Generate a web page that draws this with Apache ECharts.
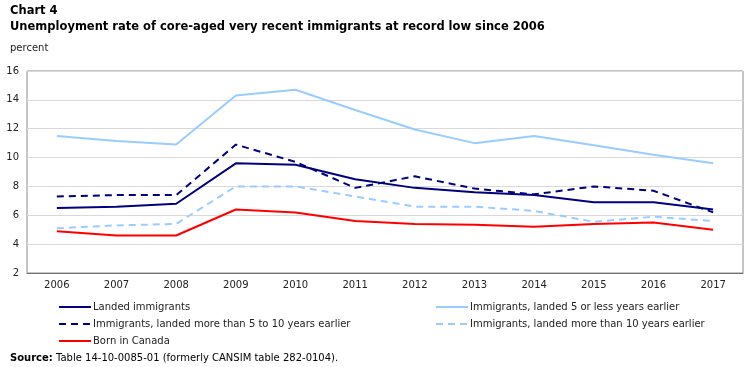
<!DOCTYPE html>
<html><head><meta charset="utf-8">
<script src="https://cdn.jsdelivr.net/npm/echarts@6/dist/echarts.min.js"></script>
<style>html,body{margin:0;padding:0;background:#fff}#c{width:750px;height:367px}</style>
</head><body><div id="c"></div>
<script>
const years = ['2006','2007','2008','2009','2010','2011','2012','2013','2014','2015','2016','2017'];
const yTicks = [2,4,6,8,10,12,14,16];
const landed = [6.5,6.6,6.8,9.6,9.5,8.5,7.9,7.6,7.4,6.9,6.9,6.4];
const landed5less = [11.5,11.15,10.9,14.3,14.7,13.3,11.95,11.0,11.5,10.85,10.2,9.6];
const landed5to10 = [7.3,7.4,7.4,10.9,9.7,7.9,8.7,7.85,7.45,8.0,7.7,6.2];
const landed10plus = [5.1,5.3,5.4,8.0,8.0,7.3,6.6,6.6,6.3,5.55,5.9,5.6];
const bornCanada = [4.9,4.6,4.6,6.4,6.2,5.6,5.4,5.35,5.2,5.4,5.5,5.0];
const names = ['Landed immigrants','Immigrants, landed 5 or less years earlier','Immigrants, landed more than 5 to 10 years earlier','Immigrants, landed more than 10 years earlier','Born in Canada'];

const FONT = 'DejaVu Sans';
const chart = echarts.init(document.getElementById('c'), null, {renderer:'canvas'});
function ser(name, data, color, dashed){
  return {name, type:'line', data, symbol:'none', smooth:false,
    lineStyle:{color, width:2, type: dashed ? [7,5] : 'solid'}, itemStyle:{color}};
}
const legendBase = {orient:'vertical', top:297, itemWidth:32, itemHeight:10, itemGap:7,
  itemStyle:{opacity:0}, textStyle:{fontFamily:FONT, fontSize:10, color:'#222', padding:[0,0,0,-3]}};
chart.setOption({
  animation:false,
  textStyle:{fontFamily:FONT},
  title:[
    {text:'Chart 4\nUnemployment rate of core-aged very recent immigrants at record low since 2006', left:5, top:-2,
     textStyle:{fontFamily:FONT, fontSize:11.5, fontWeight:'bold', color:'#000', lineHeight:16}},
    {text:'percent', left:5, top:38, textStyle:{fontFamily:FONT, fontSize:10, fontWeight:'normal', color:'#222'}},
    {text:'{b|Source:} Table 14-10-0085-01 (formerly CANSIM table 282-0104).', left:5, top:348,
     textStyle:{fontFamily:FONT, fontSize:10, fontWeight:'normal', color:'#000',
       rich:{b:{fontFamily:FONT, fontSize:10, fontWeight:'bold', color:'#000'}}}}
  ],
  legend:[
    Object.assign({}, legendBase, {left:53, data:[names[0],names[2],names[4]]}),
    Object.assign({}, legendBase, {left:430, data:[names[1],names[3]]})
  ],
  grid:{left:27, right:7, top:71, bottom:94, show:true, borderColor:'#8c8c8c', borderWidth:1},
  xAxis:{type:'category', data:years, boundaryGap:true,
    axisLine:{lineStyle:{color:'#6e6e6e', width:1}},
    axisTick:{alignWithLabel:true, length:4, lineStyle:{color:'#6e6e6e'}},
    axisLabel:{fontFamily:FONT, fontSize:10, color:'#222', margin:7}},
  yAxis:{type:'value', min:yTicks[0], max:yTicks[yTicks.length-1], interval:2,
    axisLine:{show:false}, axisTick:{show:false},
    axisLabel:{fontFamily:FONT, fontSize:10, color:'#222', margin:8},
    splitLine:{lineStyle:{color:'#d9d9d9', width:1}}},
  series:[
    ser(names[0], landed, '#000080', false),
    ser(names[1], landed5less, '#99ccff', false),
    ser(names[2], landed5to10, '#000080', true),
    ser(names[3], landed10plus, '#99ccff', true),
    ser(names[4], bornCanada, '#ff0000', false)
  ]
});
</script></body></html>
